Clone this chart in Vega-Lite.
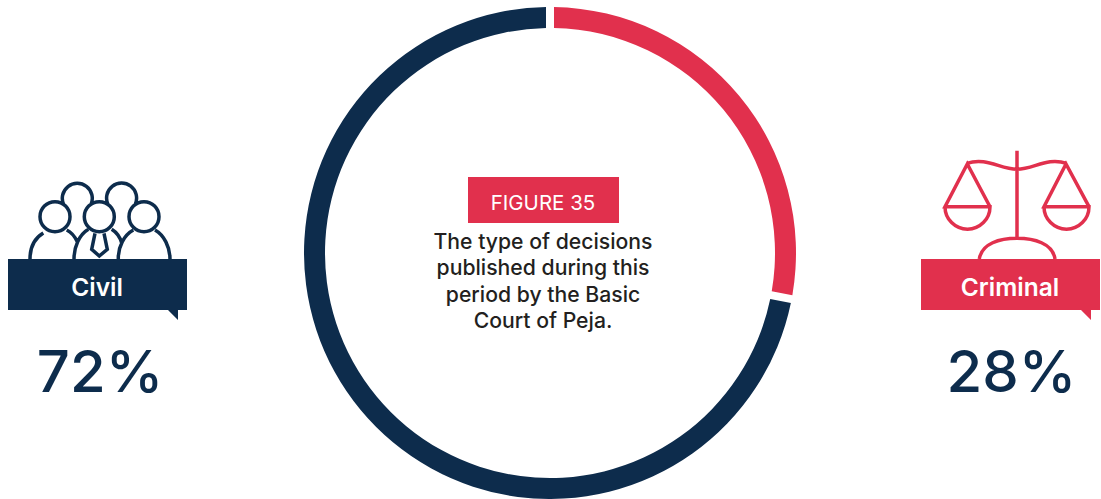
{
"$schema":"https://vega.github.io/schema/vega-lite/v6.json",
"width":1101,"height":499,"padding":0,"autosize":{"type":"none"},"background":"white",
"config":{"view":{"stroke":null},"axis":{"domain":false,"grid":false}},
"datasets":{"shares":[{"type":"Criminal","share":0.28},{"type":"Civil","share":0.72}],
"caption":[{"line":"The type of decisions"},{"line":"published during this"},{"line":"period by the Basic"},{"line":"Court of Peja."}],
"figure":[{"label":"FIGURE 35"}]},
"resolve":{"scale":{"x":"independent","y":"independent","color":"independent","shape":"independent"}},
"layer":[
{"data":{"name":"shares"},"mark":{"type":"arc","outerRadius":246,"innerRadius":225,"padAngle":0.024},
"encoding":{"x":{"datum":"ring","type":"nominal","axis":null,"scale":{"domain":["ring"],"range":[550,550]}},
"y":{"datum":"ring","type":"nominal","axis":null,"scale":{"domain":["ring"],"range":[253,253]}},
"theta":{"field":"share","type":"quantitative","stack":true},
"order":{"field":"share","type":"quantitative","sort":"ascending"},
"color":{"field":"type","type":"nominal","legend":null,"scale":{"domain":["Civil","Criminal"],"range":["#0d2c4c","#e1304d"]}}}},
{"data":{"name":"shares"},"mark":{"type":"point","filled":false,"size":4,"strokeWidth":3.5,"opacity":1},
"encoding":{"x":{"field":"type","type":"nominal","axis":null,"scale":{"domain":["Civil","Criminal"],"range":[97.5,1010.5],"padding":0}},
"y":{"datum":"icon","type":"nominal","axis":null,"scale":{"domain":["icon"],"range":[284.5,284.5]}},
"stroke":{"field":"type","type":"nominal","legend":null,"scale":{"domain":["Civil","Criminal"],"range":["#0d2c4c","#e1304d"]}},
"shape":{"field":"type","type":"nominal","legend":null,"scale":{"domain":["Civil","Criminal"],"range":[
"M-57.5,-67.8A15,15 0 1 1 -27.5,-67.8A15,15 0 1 1 -57.5,-67.8M-13.2,-67.8A15,15 0 1 1 16.8,-67.8A15,15 0 1 1 -13.2,-67.8M31.5,-67.8A15,15 0 1 1 61.5,-67.8A15,15 0 1 1 31.5,-67.8M-33.9,-80.1A15,15 0 1 1 -6.4,-80.35M10.5,-80.1A15,15 0 1 1 37.8,-80.35M-67.5,-25.5C-67.5,-37.5 -62.5,-46.5 -54.2,-51.5M-30.8,-54.5C-26.5,-52.5 -22.5,-47.5 -20.2,-42.8M-23.5,-25.5C-23.5,-37.5 -18.5,-49.5 -9.2,-55.2M14.2,-55.2C18.5,-52.5 22.5,-47.5 24.2,-41.5M20.8,-25.5C20.5,-37.5 26.5,-49.5 35.8,-54.5M57.5,-54.5C66.5,-49.5 72.5,-37.5 72.5,-25.5M-2.5,-51.2L-5.8,-35.2L1.8,-28.5L9.8,-35.2L6.5,-51.2",
"M6.5,-133.8L6.5,-46.2M-43.8,-121.2C-23.8,-127.8 -10.5,-115.2 6.5,-115.2C23.5,-115.2 36.2,-127.8 56.2,-121.2M-20.5,-77.8L-43.2,-120.5L-65.5,-77.8L-20.5,-77.8A22.5,22.5 0 0 1 -65.5,-77.8M78.5,-77.8L55.5,-120.5L33.5,-77.8L78.5,-77.8A22.5,22.5 0 0 1 33.5,-77.8M-31.2,-25.5C-28.8,-41.2 -10.5,-46.2 6.5,-46.2C23.5,-46.2 42.2,-41.2 44.5,-25.5"
]}}}},
{"data":{"name":"shares"},"mark":{"type":"point","filled":true,"size":4,"opacity":1,"strokeWidth":0,"shape":"M-89.5,-25.5H89.5V25.5H80.5V35.5L70.5,25.5H-89.5Z"},
"encoding":{"x":{"field":"type","type":"nominal","axis":null,"scale":{"domain":["Civil","Criminal"],"range":[97.5,1010.5],"padding":0}},
"y":{"datum":"box","type":"nominal","axis":null,"scale":{"domain":["box"],"range":[284.5,284.5]}},
"fill":{"field":"type","type":"nominal","legend":null,"scale":{"domain":["Civil","Criminal"],"range":["#0d2c4c","#e1304d"]}}}},
{"data":{"name":"shares"},"mark":{"type":"text","font":"Inter","fontWeight":600,"fontSize":24.5,"fill":"white","align":"center","baseline":"alphabetic"},
"encoding":{"x":{"field":"type","type":"nominal","axis":null,"scale":{"domain":["Civil","Criminal"],"range":[97,1010],"padding":0}},
"y":{"datum":"label","type":"nominal","axis":null,"scale":{"domain":["label"],"range":[296,296]}},
"text":{"field":"type","type":"nominal"}}},
{"data":{"name":"shares"},"mark":{"type":"text","font":"Inter","fontWeight":500,"fontSize":58,"fill":"#0d2c4c","align":"center","baseline":"alphabetic"},
"encoding":{"x":{"field":"type","type":"nominal","axis":null,"scale":{"domain":["Civil","Criminal"],"range":[100,1011.5],"padding":0}},
"y":{"datum":"value","type":"nominal","axis":null,"scale":{"domain":["value"],"range":[392,392]}},
"text":{"field":"share","type":"quantitative","format":".0%"}}},
{"data":{"name":"figure"},"mark":{"type":"point","filled":true,"size":4,"opacity":1,"strokeWidth":0,"fill":"#e1304d","shape":"M-75.5,-23H75.5V23H-75.5Z"},
"encoding":{"x":{"field":"label","type":"nominal","axis":null,"scale":{"range":[543.5,543.5]}},
"y":{"field":"label","type":"nominal","axis":null,"scale":{"range":[200,200]}}}},
{"data":{"name":"figure"},"mark":{"type":"text","font":"Inter","fontSize":20.5,"fill":"white","align":"center","baseline":"alphabetic"},
"encoding":{"x":{"field":"label","type":"nominal","axis":null,"scale":{"range":[543,543]}},
"y":{"field":"label","type":"nominal","axis":null,"scale":{"range":[210,210]}},
"text":{"field":"label","type":"nominal"}}},
{"data":{"name":"caption"},"mark":{"type":"text","font":"Inter","fontWeight":500,"fontSize":21.2,"fill":"#231f20","align":"center","baseline":"alphabetic"},
"encoding":{"x":{"datum":"caption","type":"nominal","axis":null,"scale":{"domain":["caption"],"range":[543,543]}},
"y":{"field":"line","type":"nominal","axis":null,"sort":null,"scale":{"domain":["The type of decisions","published during this","period by the Basic","Court of Peja."],"range":[249,328],"padding":0}},
"text":{"field":"line","type":"nominal"}}}
]}
